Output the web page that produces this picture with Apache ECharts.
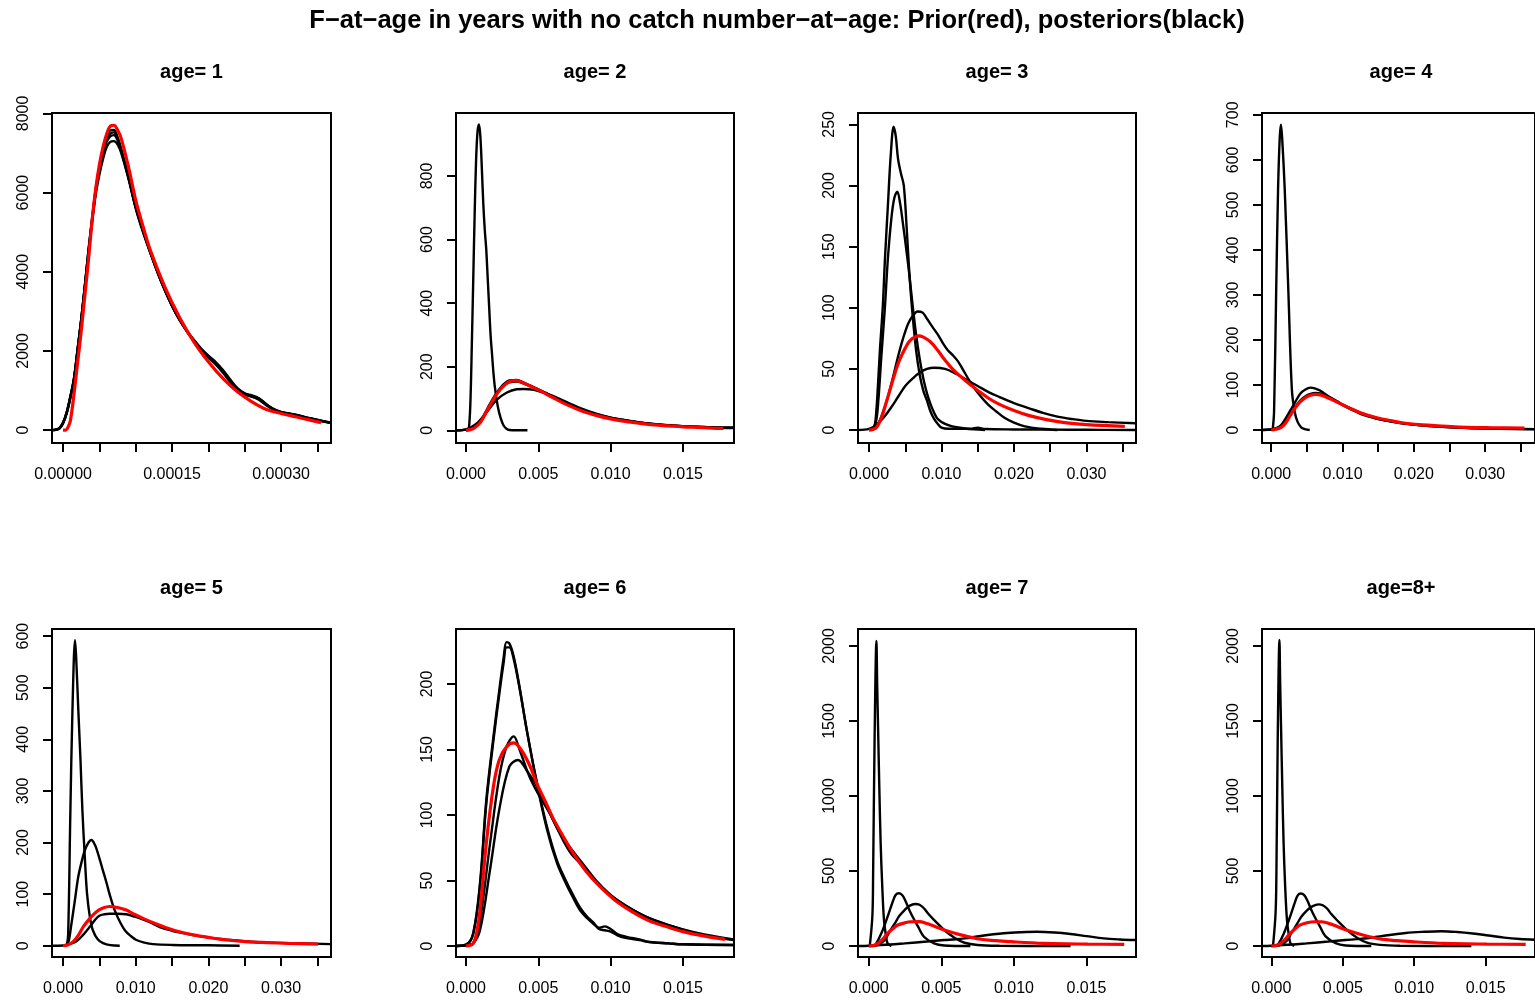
<!DOCTYPE html>
<html>
<head>
<meta charset="utf-8">
<title>F-at-age densities</title>
<script src="https://cdn.jsdelivr.net/npm/echarts@6/dist/echarts.min.js"></script>
<style>
  html, body { margin: 0; padding: 0; background: #ffffff; }
  #chart { width: 1535px; height: 1000px; }
</style>
</head>
<body>
<div id="chart"></div>
<script>
// ---- Text ----------------------------------------------------------------
const MAIN_TITLE = 'F\u2212at\u2212age in years with no catch number\u2212at\u2212age: Prior(red), posteriors(black)';
const PANEL_TITLES = ['age= 1', 'age= 2', 'age= 3', 'age= 4', 'age= 5', 'age= 6', 'age= 7', 'age=8+'];

// ---- Tick values ---------------------------------------------------------
const xTicksAge1 = [0, 0.00005, 0.0001, 0.00015, 0.0002, 0.00025, 0.0003, 0.00035];
const xLabelsAge1 = [0, 0.00015, 0.0003];
const xTicksNarrow = [0, 0.005, 0.01, 0.015];
const xTicksWide = [0, 0.005, 0.01, 0.015, 0.02, 0.025, 0.03, 0.035];
const xLabelsWide = [0, 0.01, 0.02, 0.03];
const yTicksAge1 = [0, 2000, 4000, 6000, 8000];
const yTicksAge2 = [0, 200, 400, 600, 800];
const yTicksAge3 = [0, 50, 100, 150, 200, 250];
const yTicksAge4 = [0, 100, 200, 300, 400, 500, 600, 700];
const yTicksAge5 = [0, 100, 200, 300, 400, 500, 600];
const yTicksAge6 = [0, 50, 100, 150, 200];
const yTicksAge7 = [0, 500, 1000, 1500, 2000];

// ---- Densities: [F, density] ----------------------------------------------
// age 1
const age1Prior = [[0,0],[0.000004,5],[0.000007,80],[0.00001,230],[0.000015,900],[0.00002,1700],[0.000025,2500],[0.00003,3400],[0.000035,4300],[0.00004,5300],[0.000045,6100],[0.00005,6700],[0.000055,7150],[0.00006,7480],[0.000065,7680],[0.00007,7700],[0.000075,7580],[0.00008,7370],[0.00009,6650],[0.0001,5810],[0.00011,5150],[0.00012,4550],[0.00014,3620],[0.00016,2860],[0.00018,2230],[0.0002,1726],[0.00022,1305],[0.00024,968],[0.00026,716],[0.00028,522],[0.0003,421],[0.00032,337],[0.00034,253],[0.000355,190]];
const age1Post1 = [[-0.000015,0],[-0.00001,10],[-0.000005,45],[0,180],[0.000005,440],[0.00001,830],[0.000015,1290],[0.00002,2050],[0.000025,2800],[0.00003,3650],[0.000035,4550],[0.00004,5350],[0.000045,6100],[0.00005,6650],[0.000055,7100],[0.00006,7400],[0.000065,7570],[0.00007,7580],[0.000075,7400],[0.00008,7100],[0.00009,6400],[0.0001,5650],[0.00011,5050],[0.00012,4500],[0.00013,4000],[0.00014,3550],[0.00015,3150],[0.00016,2800],[0.00017,2500],[0.00018,2250],[0.00019,2020],[0.0002,1830],[0.00021,1660],[0.00022,1450],[0.00023,1220],[0.00024,1020],[0.00025,920],[0.00026,880],[0.00027,800],[0.00028,650],[0.00029,530],[0.0003,460],[0.00032,390],[0.00034,300],[0.00036,220],[0.000369,190]];
const age1Post2 = [[-0.000015,0],[-0.00001,12],[-0.000005,50],[0,190],[0.000005,450],[0.00001,840],[0.000015,1300],[0.00002,2000],[0.000025,2750],[0.00003,3600],[0.000035,4450],[0.00004,5250],[0.000045,5950],[0.00005,6450],[0.000055,6850],[0.00006,7150],[0.000065,7280],[0.00007,7300],[0.000075,7220],[0.00008,7000],[0.00009,6350],[0.0001,5600],[0.00011,5000],[0.00012,4480],[0.00013,3980],[0.00014,3530],[0.00015,3130],[0.00016,2790],[0.00017,2510],[0.00018,2270],[0.00019,2050],[0.0002,1860],[0.00021,1700],[0.00022,1500],[0.00023,1260],[0.00024,1040],[0.00025,900],[0.00026,840],[0.00027,780],[0.00028,640],[0.00029,520],[0.0003,450],[0.00032,380],[0.00034,290],[0.00036,210],[0.000369,180]];
const age1Post3 = [[-0.000015,0],[-0.00001,8],[-0.000005,40],[0,170],[0.000005,420],[0.00001,810],[0.000015,1270],[0.00002,2020],[0.000025,2780],[0.00003,3630],[0.000035,4500],[0.00004,5300],[0.000045,6020],[0.00005,6560],[0.000055,6980],[0.00006,7280],[0.000065,7420],[0.00007,7450],[0.000075,7320],[0.00008,7050],[0.00009,6380],[0.0001,5620],[0.00011,5030],[0.00012,4490],[0.00013,3990],[0.00014,3540],[0.00015,3140],[0.00016,2800],[0.00017,2520],[0.00018,2280],[0.00019,2060],[0.0002,1880],[0.00021,1720],[0.00022,1520],[0.00023,1280],[0.00024,1060],[0.00025,930],[0.00026,860],[0.00027,760],[0.00028,620],[0.00029,510],[0.0003,445],[0.00032,375],[0.00034,295],[0.00036,215],[0.000369,185]];
const age1Post4 = [[-0.000015,0],[-0.00001,11],[-0.000005,48],[0,185],[0.000005,445],[0.00001,835],[0.000015,1295],[0.00002,2030],[0.000025,2790],[0.00003,3640],[0.000035,4520],[0.00004,5320],[0.000045,6060],[0.00005,6600],[0.000055,7040],[0.00006,7330],[0.000065,7490],[0.00007,7520],[0.000075,7380],[0.00008,7080],[0.00009,6390],[0.0001,5640],[0.00011,5040],[0.00012,4500],[0.00013,4000],[0.00014,3550],[0.00015,3150],[0.00016,2810],[0.00017,2520],[0.00018,2260],[0.00019,2030],[0.0002,1840],[0.00021,1670],[0.00022,1470],[0.00023,1230],[0.00024,1030],[0.00025,910],[0.00026,860],[0.00027,790],[0.00028,645],[0.00029,525],[0.0003,455],[0.00032,385],[0.00034,295],[0.00036,215],[0.000369,185]];

// age 2
const age2Prior = [[0,0],[0.0003,2],[0.0006,8],[0.001,25],[0.0015,65],[0.002,105],[0.0025,135],[0.003,153],[0.0035,156],[0.004,148],[0.005,127],[0.006,103],[0.007,80],[0.008,61],[0.009,47],[0.01,36],[0.011,28],[0.012,22],[0.013,17],[0.014,14],[0.015,11],[0.016,9],[0.017,7],[0.0178,6]];
const age2Post1 = [[0.00012,0],[0.0002,5],[0.0003,80],[0.0004,260],[0.0005,470],[0.0006,680],[0.0007,850],[0.0008,940],[0.0009,962],[0.001,920],[0.0011,820],[0.0012,710],[0.0013,630],[0.0014,570],[0.0015,480],[0.0016,390],[0.0017,300],[0.0018,240],[0.0019,180],[0.002,135],[0.0022,75],[0.0024,38],[0.0026,15],[0.0028,5],[0.003,1],[0.0035,0],[0.00425,0]];
const age2Post2 = [[-0.0007,0],[0,2],[0.0005,8],[0.001,30],[0.0015,70],[0.002,110],[0.0025,140],[0.003,157],[0.0035,158],[0.004,150],[0.005,128],[0.006,105],[0.007,82],[0.008,63],[0.009,48],[0.01,38],[0.011,30],[0.012,24],[0.013,19],[0.014,15],[0.015,12],[0.016,10],[0.017,8],[0.0185,7]];
const age2Post3 = [[-0.0007,0],[0,2],[0.0005,7],[0.001,27],[0.0015,66],[0.002,106],[0.0025,136],[0.003,151],[0.0035,153],[0.004,147],[0.005,129],[0.006,107],[0.007,84],[0.008,65],[0.009,50],[0.01,40],[0.011,32],[0.012,25],[0.013,20],[0.014,16],[0.015,13],[0.016,11],[0.017,9],[0.0185,8]];
const age2Post4 = [[-0.0007,0],[0,3],[0.0007,20],[0.0014,55],[0.0021,95],[0.0028,118],[0.0035,129],[0.004,130],[0.0047,127],[0.0055,116],[0.006,108],[0.007,88],[0.008,68],[0.009,52],[0.01,40],[0.0115,28],[0.013,19],[0.015,13],[0.017,10],[0.0185,8]];

// age 3
const age3Prior = [[0,0],[0.0005,0.5],[0.001,2],[0.0015,7],[0.002,15],[0.0025,25],[0.003,35],[0.0035,45],[0.004,54],[0.0045,61],[0.005,67],[0.0055,72],[0.006,75],[0.0068,77],[0.0075,76],[0.0085,72],[0.0095,65],[0.0105,57],[0.0115,50],[0.0128,43],[0.014,37],[0.0151,32],[0.0165,26],[0.018,21],[0.02,16],[0.022,12],[0.0245,8.5],[0.027,6],[0.03,4.5],[0.0353,3]];
const age3Post1 = [[0.0005,0],[0.0008,4],[0.001,15],[0.0012,33],[0.0015,65],[0.0019,101],[0.0022,140],[0.0026,183],[0.003,225],[0.0034,248],[0.0037,240],[0.004,222],[0.0044,210],[0.0048,200],[0.0052,165],[0.0056,125],[0.006,95],[0.0065,65],[0.007,45],[0.0075,32],[0.008,24],[0.0085,15],[0.009,9],[0.0095,5],[0.01,2],[0.011,1],[0.014,1],[0.015,2],[0.016,0.8],[0.02,0.5],[0.025,0.3],[0.03,0.2],[0.0368,0]];
const age3Post2 = [[0.0005,0],[0.001,8],[0.0013,25],[0.0017,60],[0.0022,101],[0.0026,140],[0.0031,174],[0.0035,190],[0.0039,195],[0.0043,185],[0.0047,168],[0.0052,145],[0.0056,125],[0.006,103],[0.0065,78],[0.007,58],[0.0075,42],[0.008,30],[0.0085,21],[0.009,14],[0.0095,9],[0.0105,5],[0.0115,3],[0.013,1.5],[0.0145,0.5],[0.016,0]];
const age3Post3 = [[0.0005,0],[0.001,3],[0.0015,8],[0.002,16],[0.0026,27],[0.0033,43],[0.004,60],[0.0047,75],[0.0054,87],[0.006,93],[0.0067,97],[0.0074,96],[0.008,91],[0.0088,84],[0.0095,78],[0.0102,71],[0.0109,65],[0.0116,61],[0.0123,56],[0.013,49],[0.0141,38],[0.0152,29],[0.0164,21],[0.0176,15],[0.0187,10],[0.02,6],[0.0215,3],[0.0238,1],[0.026,0]];
const age3Post4 = [[-0.0015,0],[0,1],[0.001,4],[0.002,10],[0.003,18],[0.004,27],[0.005,36],[0.006,42],[0.007,47],[0.008,50],[0.009,51],[0.0105,50],[0.012,46],[0.0135,41],[0.015,36],[0.0165,31],[0.018,27],[0.02,22],[0.022,18],[0.024,14],[0.026,11],[0.028,9],[0.03,7.5],[0.033,6.5],[0.0368,5.5]];

// age 4
const age4Prior = [[0,0],[0.0007,2],[0.0014,6],[0.002,15],[0.0027,33],[0.0034,50],[0.0041,63],[0.0048,72],[0.0055,77],[0.0062,79],[0.0069,78],[0.008,71],[0.0092,62],[0.01,56],[0.0112,47],[0.0124,39],[0.0137,32],[0.0151,26],[0.0167,21],[0.0183,16],[0.0206,12],[0.0229,10],[0.0252,7.5],[0.0275,6],[0.031,5],[0.0355,4]];
const age4Post1 = [[0.0002,0],[0.0004,40],[0.0007,311],[0.00096,533],[0.0012,650],[0.00137,678],[0.0016,630],[0.0019,533],[0.0024,311],[0.0029,89],[0.0033,40],[0.0037,18],[0.0042,6],[0.0047,2],[0.0054,0]];
const age4Post2 = [[-0.0013,0],[0,1],[0.0007,4],[0.0014,11],[0.002,25],[0.0027,44],[0.0034,63],[0.0041,81],[0.0048,90],[0.0055,94],[0.0062,92],[0.0069,87],[0.008,75],[0.0092,63],[0.0103,53],[0.0114,44],[0.0125,36],[0.0137,30],[0.015,24],[0.016,21],[0.018,16],[0.0206,11],[0.023,8],[0.0252,6],[0.028,4],[0.032,2.5],[0.037,1.5]];
const age4Post3 = [[-0.0013,0],[0,1],[0.0007,3],[0.0014,8],[0.002,18],[0.0027,35],[0.0034,52],[0.0041,66],[0.0048,75],[0.0055,80],[0.0062,82],[0.0069,81],[0.008,74],[0.0092,64],[0.0103,54],[0.0114,46],[0.0125,38],[0.0137,31],[0.015,25],[0.0165,20],[0.0183,15],[0.0206,11],[0.0229,8],[0.0252,6],[0.028,4.5],[0.032,3],[0.037,2]];

// age 5
const age5Prior = [[0,0],[0.0007,2],[0.0014,8],[0.0021,20],[0.0028,37],[0.0037,53],[0.0046,66],[0.0055,73],[0.0064,76],[0.0075,74],[0.0087,69],[0.0098,61],[0.011,53],[0.0125,44],[0.0142,35],[0.016,27],[0.0179,21],[0.02,16],[0.0225,11],[0.025,8],[0.028,6],[0.031,4.5],[0.0351,3]];
const age5Post1 = [[0.0005,0],[0.0007,20],[0.001,254],[0.0013,460],[0.00165,592],[0.0018,560],[0.0021,457],[0.0024,360],[0.00266,263],[0.003,170],[0.0033,101],[0.0037,55],[0.0041,30],[0.0048,12],[0.0055,5],[0.0065,1],[0.0078,0]];
const age5Post2 = [[0.0005,0],[0.0008,10],[0.0011,37],[0.0016,85],[0.0021,134],[0.0026,165],[0.003,185],[0.0035,200],[0.0039,205],[0.0044,195],[0.0048,179],[0.0054,150],[0.006,121],[0.0065,95],[0.0071,69],[0.0078,47],[0.0085,30],[0.0093,19],[0.0101,11],[0.0112,6],[0.0124,3],[0.015,1.5],[0.02,0.8],[0.0243,0]];
const age5Post3 = [[-0.0015,0],[0,0.5],[0.0009,3],[0.0018,8],[0.0027,20],[0.0037,37],[0.0044,50],[0.005,58],[0.0057,61],[0.0064,62],[0.0075,62],[0.0087,61],[0.0097,57],[0.0106,53],[0.012,45],[0.0133,36],[0.015,29],[0.017,23],[0.019,18],[0.0216,13],[0.024,10],[0.0271,7],[0.031,5],[0.0369,3]];

// age 6
const age6Prior = [[0,0],[0.0003,0.5],[0.0005,2],[0.0007,8],[0.00097,27],[0.0014,78],[0.0019,122],[0.0023,142],[0.0028,152],[0.0033,155],[0.0038,150],[0.0044,138],[0.0049,124],[0.0055,110],[0.006,98],[0.0067,84],[0.0074,71],[0.0083,57],[0.0092,46],[0.0103,35],[0.0115,26],[0.0127,19],[0.0138,15],[0.015,11],[0.0165,7.5],[0.0179,5]];
const age6Post1 = [[-0.0007,0],[0,1],[0.0005,10],[0.00097,48],[0.0014,111],[0.0019,160],[0.0023,195],[0.0026,220],[0.0028,232],[0.003,231],[0.0033,221],[0.0037,198],[0.0042,165],[0.0049,124],[0.0056,89],[0.0063,63],[0.0069,48],[0.0074,37],[0.0079,27],[0.0084,21],[0.0088,17],[0.0092,14],[0.0096,15],[0.01,13],[0.0105,9],[0.0111,7],[0.012,5],[0.0127,3],[0.014,2],[0.015,1.3],[0.0185,0.8]];
const age6Post2 = [[-0.0007,0],[0,1],[0.0005,9],[0.00097,46],[0.0014,108],[0.0019,157],[0.0023,192],[0.0026,216],[0.0028,228],[0.003,228],[0.0033,219],[0.0037,197],[0.0042,165],[0.0049,125],[0.0056,91],[0.0063,65],[0.0069,50],[0.0074,39],[0.0079,29],[0.0084,22],[0.0088,18],[0.0092,13],[0.0096,12],[0.01,11],[0.0105,8],[0.0111,6],[0.012,4.5],[0.0127,3],[0.014,2],[0.015,1.3],[0.0185,0.8]];
const age6Post3 = [[-0.0007,0],[0,0.5],[0.0005,2],[0.00097,20],[0.00166,78],[0.0023,129],[0.0028,152],[0.0033,160],[0.0037,150],[0.0044,129],[0.0051,114],[0.0058,101],[0.0067,81],[0.0073,70],[0.0079,63],[0.0092,46],[0.0106,34],[0.0125,22],[0.0143,15],[0.0161,9],[0.0185,4.6]];
const age6Post4 = [[-0.0007,0],[0,0.5],[0.0005,2],[0.00097,12],[0.00166,58],[0.0023,104],[0.003,137],[0.0036,142],[0.0042,134],[0.0049,122],[0.0056,106],[0.0063,90],[0.007,78],[0.008,64],[0.009,50],[0.01,39],[0.011,31],[0.0125,22],[0.014,16],[0.016,10],[0.0185,5]];

// age 7
const age7Prior = [[0,0],[0.0003,3],[0.00064,18],[0.001,50],[0.0013,85],[0.0017,118],[0.002,140],[0.0025,155],[0.0029,162],[0.0035,163],[0.004,150],[0.0043,140],[0.0052,107],[0.0064,73],[0.0077,45],[0.0088,36],[0.0098,29],[0.0121,18],[0.0151,13],[0.0176,11]];
const age7Post1 = [[0.00007,0],[0.00025,200],[0.0003,463],[0.0004,1354],[0.00053,2034],[0.00058,1750],[0.00064,1466],[0.00073,1050],[0.00082,686],[0.00093,400],[0.00105,174],[0.0012,60],[0.0013,18],[0.00156,0]];
const age7Post2 = [[0.0003,0],[0.0005,15],[0.00087,85],[0.0013,196],[0.00167,300],[0.00185,340],[0.00206,352],[0.0023,340],[0.0025,307],[0.0029,218],[0.0034,129],[0.0038,62],[0.0045,18],[0.0052,4],[0.007,0]];
const age7Post3 = [[0.0003,0],[0.0007,10],[0.0011,40],[0.0014,90],[0.0018,151],[0.0021,200],[0.00247,240],[0.0028,268],[0.0032,280],[0.0035,275],[0.0038,252],[0.0041,215],[0.0045,174],[0.0052,107],[0.0059,56],[0.0066,22],[0.0075,7],[0.009,2],[0.0139,0]];
const age7Post4 = [[-0.0007,0],[0,2],[0.0015,10],[0.0025,18],[0.004,30],[0.0052,40],[0.006,45],[0.0066,51],[0.0077,67],[0.0093,85],[0.0105,92],[0.0116,95],[0.0128,90],[0.0139,80],[0.015,66],[0.0162,51],[0.0173,44],[0.0184,40]];

// age 8+
const age8Prior = [[0,0],[0.0003,3],[0.00064,17],[0.001,48],[0.0013,83],[0.0017,117],[0.002,139],[0.0025,155],[0.003,162],[0.0035,162],[0.004,151],[0.0044,138],[0.0052,108],[0.0064,74],[0.0077,46],[0.0088,36],[0.0098,29],[0.0121,18],[0.0151,13],[0.0178,11]];
const age8Post1 = [[0.00012,0],[0.0003,220],[0.00036,500],[0.00045,1380],[0.00057,2040],[0.00062,1760],[0.00068,1470],[0.00077,1060],[0.00086,690],[0.00097,400],[0.0011,170],[0.00125,60],[0.00135,18],[0.0016,0]];
const age8Post2 = [[0.0003,0],[0.0005,14],[0.00087,82],[0.0013,192],[0.00167,296],[0.00185,338],[0.00206,350],[0.0023,340],[0.0025,308],[0.0029,220],[0.0034,131],[0.0038,64],[0.0045,19],[0.0052,4],[0.007,0]];
const age8Post3 = [[0.0003,0],[0.0007,9],[0.0011,38],[0.0014,86],[0.0018,147],[0.0021,195],[0.0025,238],[0.0029,266],[0.0033,278],[0.0036,272],[0.0039,250],[0.0042,213],[0.0046,172],[0.0053,106],[0.006,56],[0.0067,23],[0.0076,8],[0.009,2],[0.014,0]];
const age8Post4 = [[-0.0007,0],[0,2],[0.0015,10],[0.0025,18],[0.004,30],[0.0052,40],[0.006,46],[0.0067,52],[0.0078,68],[0.0094,87],[0.0107,95],[0.0119,99],[0.013,94],[0.0141,84],[0.0152,70],[0.0163,56],[0.0174,47],[0.0185,42]];

// ---- Panels ----------------------------------------------------------------
const COL_LEFT = [52, 456, 858, 1262];
const COL_WIDTH = [279, 278, 278, 278];
const ROW_TOP = [113, 629];
const ROW_HEIGHT = [330, 328];

const panels = [
  { xMin: -0.0000152, xMax: 0.0003687, yMin: -325, yMax: 8010, xTicks: xTicksAge1, xLabels: xLabelsAge1, digits: 5, yTicks: yTicksAge1,
    prior: age1Prior, posts: [age1Post1, age1Post2, age1Post3, age1Post4] },
  { xMin: -0.00069, xMax: 0.01853, yMin: -40, yMax: 998, xTicks: xTicksNarrow, xLabels: xTicksNarrow, digits: 3, yTicks: yTicksAge2,
    prior: age2Prior, posts: [age2Post1, age2Post2, age2Post3, age2Post4] },
  { xMin: -0.00152, xMax: 0.03684, yMin: -10.6, yMax: 259.3, xTicks: xTicksWide, xLabels: xLabelsWide, digits: 3, yTicks: yTicksAge3,
    prior: age3Prior, posts: [age3Post1, age3Post2, age3Post3, age3Post4] },
  { xMin: -0.00129, xMax: 0.03698, yMin: -28.9, yMax: 704, xTicks: xTicksWide, xLabels: xLabelsWide, digits: 3, yTicks: yTicksAge4,
    prior: age4Prior, posts: [age4Post1, age4Post2, age4Post3] },
  { xMin: -0.00152, xMax: 0.03687, yMin: -21.9, yMax: 613.8, xTicks: xTicksWide, xLabels: xLabelsWide, digits: 3, yTicks: yTicksAge5,
    prior: age5Prior, posts: [age5Post1, age5Post2, age5Post3] },
  { xMin: -0.00069, xMax: 0.01853, yMin: -8.4, yMax: 242, xTicks: xTicksNarrow, xLabels: xTicksNarrow, digits: 3, yTicks: yTicksAge6,
    prior: age6Prior, posts: [age6Post1, age6Post2, age6Post3, age6Post4] },
  { xMin: -0.00074, xMax: 0.01841, yMin: -73, yMax: 2113, xTicks: xTicksNarrow, xLabels: xTicksNarrow, digits: 3, yTicks: yTicksAge7,
    prior: age7Prior, posts: [age7Post1, age7Post2, age7Post3, age7Post4] },
  { xMin: -0.00065, xMax: 0.01845, yMin: -73, yMax: 2113, xTicks: xTicksNarrow, xLabels: xTicksNarrow, digits: 3, yTicks: yTicksAge7,
    prior: age8Prior, posts: [age8Post1, age8Post2, age8Post3, age8Post4] }
];

const FONT = "'Liberation Sans', Arial, Helvetica, sans-serif";
const INK = '#000000';

const grids = [], xAxes = [], yAxes = [], series = [];
const titles = [{
  text: MAIN_TITLE, left: 777, top: 8, padding: 0, textAlign: 'center', textVerticalAlign: 'top',
  textStyle: { fontFamily: FONT, fontSize: 25.5, fontWeight: 'bold', color: INK, lineHeight: 26 }
}];

panels.forEach((p, i) => {
  const col = i % 4, row = Math.floor(i / 4);
  const left = COL_LEFT[col], top = ROW_TOP[row], width = COL_WIDTH[col], height = ROW_HEIGHT[row];
  grids.push({ left, top, width, height, containLabel: false, show: true,
    borderColor: INK, borderWidth: 2, backgroundColor: 'transparent' });
  titles.push({ text: PANEL_TITLES[i], left: left + width / 2, top: top - 51, padding: 0,
    textAlign: 'center', textVerticalAlign: 'top',
    textStyle: { fontFamily: FONT, fontSize: 20, fontWeight: 'bold', color: INK, lineHeight: 20 } });
  xAxes.push({
    type: 'value', gridIndex: i, min: p.xMin, max: p.xMax, position: 'bottom',
    splitLine: { show: false }, axisLine: { show: false, onZero: false },
    axisTick: { show: true, inside: false, length: 9, customValues: p.xTicks, lineStyle: { color: INK, width: 2 } },
    axisLabel: { show: true, margin: 24, customValues: p.xLabels, fontFamily: FONT, fontSize: 16, lineHeight: 16, color: INK,
      formatter: v => Number(v).toFixed(p.digits) }
  });
  yAxes.push({
    type: 'value', gridIndex: i, min: p.yMin, max: p.yMax, position: 'left',
    splitLine: { show: false }, axisLine: { show: false, onZero: false },
    axisTick: { show: true, inside: false, length: 9, customValues: p.yTicks, lineStyle: { color: INK, width: 2 } },
    axisLabel: { show: true, rotate: 90, margin: 20, customValues: p.yTicks, fontFamily: FONT, fontSize: 16, lineHeight: 16, color: INK,
      formatter: v => String(Math.round(v)) }
  });
  p.posts.forEach(d => {
    series.push({ type: 'line', xAxisIndex: i, yAxisIndex: i, data: d, showSymbol: false, symbol: 'none',
      smooth: 0.35, lineStyle: { color: INK, width: 2.4 }, z: 2, silent: true });
  });
  series.push({ type: 'line', xAxisIndex: i, yAxisIndex: i, data: p.prior, showSymbol: false, symbol: 'none',
    smooth: 0.35, lineStyle: { color: '#ff0000', width: 3.2 }, z: 3, silent: true });
});

const chart = echarts.init(document.getElementById('chart'), null, { renderer: 'canvas' });
chart.setOption({
  animation: false,
  backgroundColor: '#ffffff',
  title: titles,
  grid: grids,
  xAxis: xAxes,
  yAxis: yAxes,
  series: series
});
</script>
</body>
</html>
